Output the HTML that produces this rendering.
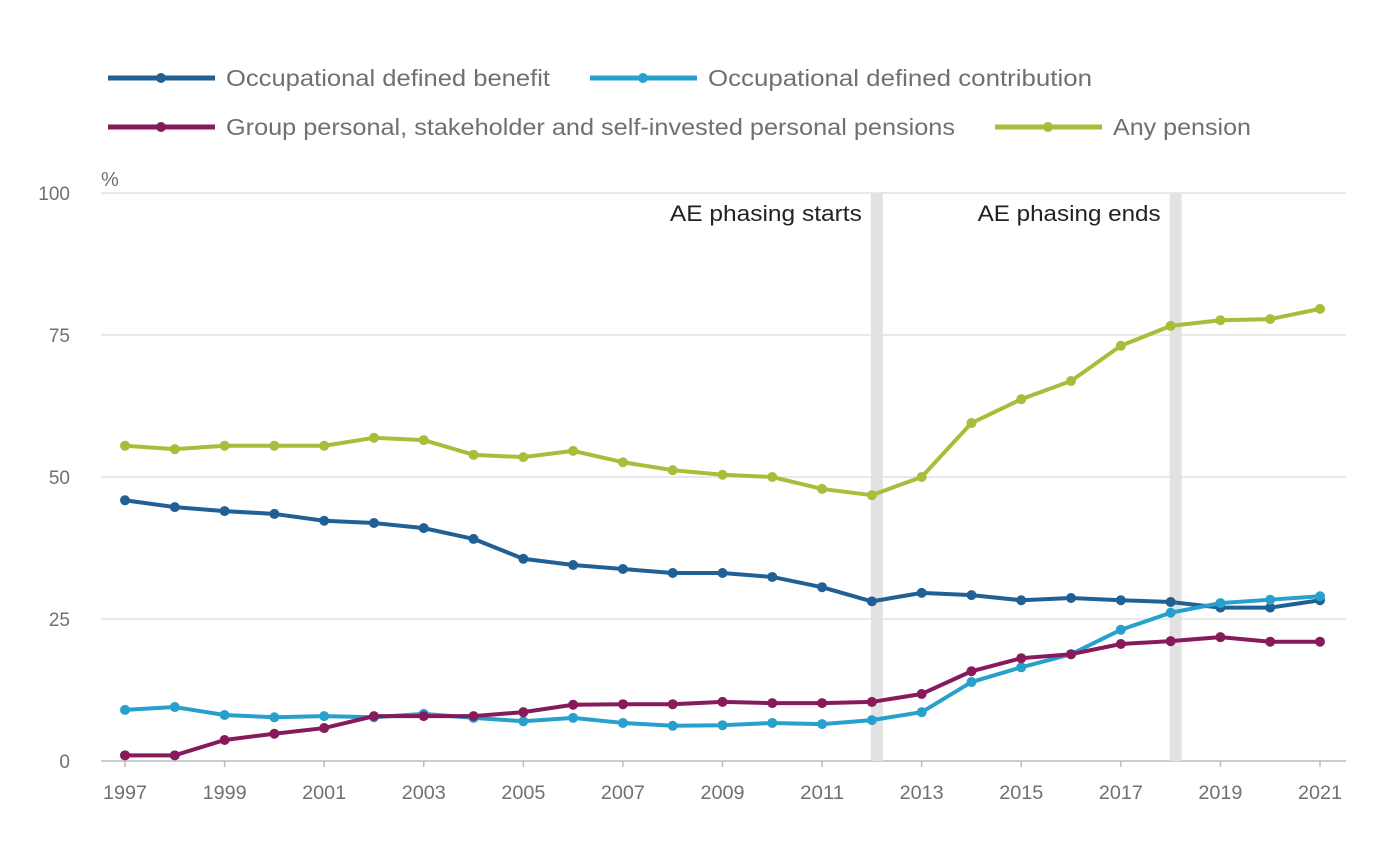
<!DOCTYPE html>
<html><head><meta charset="utf-8"><style>
html,body{margin:0;padding:0;background:#fff;}
svg{display:block;font-family:"Liberation Sans",sans-serif;}
</style></head><body>
<svg id="chart" width="1394" height="865"></svg>
<script>
const years=[1997,1998,1999,2000,2001,2002,2003,2004,2005,2006,2007,2008,2009,2010,2011,2012,2013,2014,2015,2016,2017,2018,2019,2020,2021];
const dbValues=[45.9,44.7,44.0,43.5,42.3,41.9,41.0,39.1,35.6,34.5,33.8,33.1,33.1,32.4,30.6,28.1,29.6,29.2,28.3,28.7,28.3,28.0,27.0,27.0,28.3];
const dcValues=[9.0,9.5,8.1,7.7,7.9,7.7,8.3,7.6,7.0,7.6,6.7,6.2,6.3,6.7,6.5,7.2,8.6,13.9,16.5,18.8,23.1,26.1,27.8,28.4,29.0];
const gppValues=[1.0,1.0,3.7,4.8,5.8,7.9,7.9,7.9,8.6,9.9,10.0,10.0,10.4,10.2,10.2,10.4,11.8,15.8,18.1,18.8,20.6,21.1,21.8,21.0,21.0];
const anyValues=[55.5,54.9,55.5,55.5,55.5,56.9,56.5,53.9,53.5,54.6,52.6,51.2,50.4,50.0,47.9,46.8,50.0,59.5,63.7,66.9,73.1,76.6,77.6,77.8,79.6];
const yTicks=[0,25,50,75,100];
const xTickYears=[1997,1999,2001,2003,2005,2007,2009,2011,2013,2015,2017,2019,2021];
const markerYears=[2012,2018];
const markerLabels=["AE phasing starts","AE phasing ends"];
const seriesNames=["Occupational defined benefit","Occupational defined contribution","Group personal, stakeholder and self-invested personal pensions","Any pension"];

const NS="http://www.w3.org/2000/svg";
const svg=document.getElementById('chart');
const X=y=>125+(y-1997)*(1320-125)/24;
const Y=v=>761-v*5.68;
function el(tag,attrs,parent){const e=document.createElementNS(NS,tag);for(const k in attrs)e.setAttribute(k,attrs[k]);(parent||svg).appendChild(e);return e;}

yTicks.forEach(t=>{
  const g=el('line',{x1:101,x2:1346,y1:Y(t),y2:Y(t),stroke:t===0?'#bcbcbc':'#e2e2e2','stroke-width':1.5});
  
  
  const tx=el('text',{x:70,y:Y(t)+7,'text-anchor':'end','font-size':19,fill:'#707070'});
  tx.textContent=t;
  
  
});
const pct=el('text',{x:101,y:186,'font-size':20,fill:'#707070'});pct.textContent='%';



xTickYears.forEach(yr=>{
  const tk=el('line',{x1:X(yr),x2:X(yr),y1:761,y2:767,stroke:'#bcbcbc','stroke-width':1.5});
  
  
  const tx=el('text',{x:X(yr),y:799,'text-anchor':'middle','font-size':19,fill:'#707070',textLength:44,lengthAdjust:'spacingAndGlyphs'});
  tx.textContent=yr;
  
  
});

const markerWidths=[192,183];
markerYears.forEach((yr,i)=>{
  const r=el('rect',{x:X(yr)-1,y:193,width:12,height:568,fill:'#e2e2e2'});
  
  
  const t=el('text',{x:X(yr)-10-markerWidths[i],y:221,'font-size':22,fill:'#222',textLength:markerWidths[i],lengthAdjust:'spacingAndGlyphs'});
  t.textContent=markerLabels[i];
  
  
});

const series=[[dbValues,'#206095','db'],[dcValues,'#27a0cc','dc'],[gppValues,'#871a5b','gpp'],[anyValues,'#a8bd3a','any']];
series.forEach(([vals,c,id])=>{
  const p=el('polyline',{points:vals.map((v,i)=>X(years[i])+','+Y(v)).join(' '),fill:'none',stroke:c,'stroke-width':4,'stroke-linejoin':'round'});
  
  
  vals.forEach((v,i)=>{
    const d=el('circle',{cx:X(years[i]),cy:Y(v),r:5,fill:c});
    
    
  });
});

const legendPos=[[108,78],[590,78],[108,127],[995,127]];
const legendWidths=[324,384,729,138];
series.forEach(([vals,c,id],i)=>{
  const [lx,ly]=legendPos[i];
  const g=el('g',{});
  
  
  el('line',{x1:lx,x2:lx+107,y1:ly,y2:ly,stroke:c,'stroke-width':5},g);
  el('circle',{cx:lx+53,cy:ly,r:5,fill:c},g);
  const t=el('text',{x:lx+118,y:ly+8,'font-size':23,fill:'#707070',textLength:legendWidths[i],lengthAdjust:'spacingAndGlyphs'},g);
  t.textContent=seriesNames[i];
});
</script>
</body></html>
